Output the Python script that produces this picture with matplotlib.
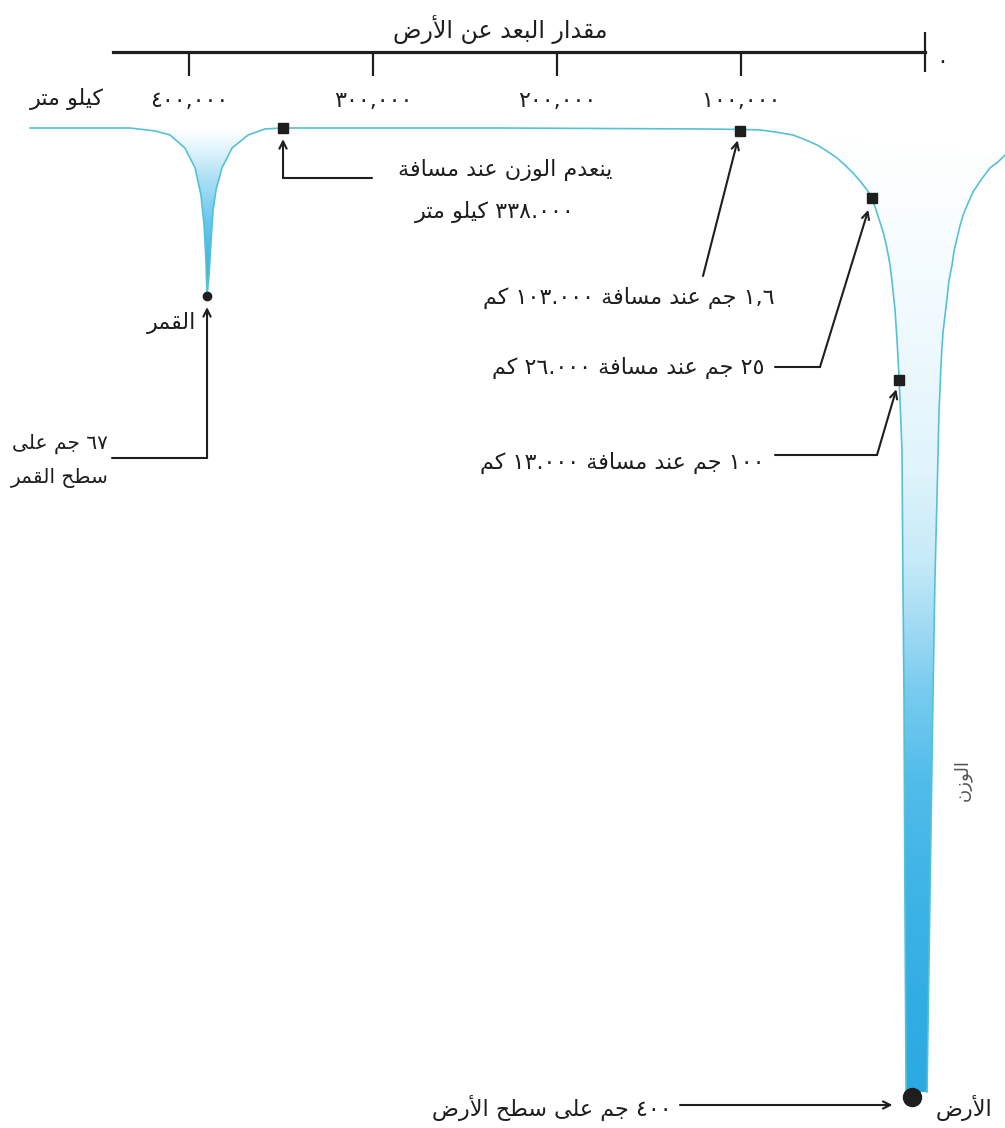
import re
import numpy as np
import matplotlib
matplotlib.use('Agg')
import matplotlib.pyplot as plt
import matplotlib.transforms as mtransforms
from matplotlib.colors import LinearSegmentedColormap
from matplotlib.patches import Polygon

plt.rcParams['font.family'] = ['DejaVu Sans']

# distance from the Earth (thousand km) and weight (g)
dist_ticks = [100, 200, 300, 400]
dist_tick_labels = ['١٠٠,٠٠٠', '٢٠٠,٠٠٠', '٣٠٠,٠٠٠', '٤٠٠,٠٠٠']

# profile from the left edge down into the moon dip and back up
moon_dist = [486.4, 432.1, 418.5, 410.3, 402.2, 396.7, 393.5, 391.8, 390.8, 390.2,
             389.1, 388.0, 386.9, 385.3, 382.1, 376.6, 367.9, 358.7, 348.9]
moon_w = [0, 0, 1.2, 2.9, 8.3, 16.5, 27.7, 40.1, 54.5, 69.4,
          60.7, 46.3, 33.9, 25.6, 16.5, 8.3, 2.9, 0.4, 0]

# near side of the Earth's well, down to the surface
earth_dist = [348.9, 231.0, 122.3, 100.5, 89.7, 81.0, 71.7, 65.2, 58.7, 53.3, 47.8,
              43.5, 39.1, 35.3, 31.5, 28.8, 26.6, 24.5, 22.3, 20.7, 19.0, 17.9,
              16.3, 15.2, 14.1, 12.5, 12.0, 11.4, 10.9, 10.3]
earth_w = [0, 0, 0.4, 0.6, 0.8, 1.7, 2.9, 4.8, 7.0, 9.5, 12.4,
           15.3, 18.6, 21.9, 25.6, 28.9, 33.9, 38.8, 44.2, 49.6, 56.6, 63.6,
           75.2, 87.6, 102.9, 133.1, 186.8, 236.4, 319.0, 398.3]

# far side of the Earth's well, from the surface back up
far_dist = [-1.1, -2.7, -4.3, -5.4, -6.5, -7.6, -8.2, -8.7, -9.2, -9.8, -10.9,
            -12.0, -13.0, -14.7, -15.8, -17.4, -19.0, -20.7, -23.4, -26.1,
            -30.4, -35.3, -39.7, -43.5]
far_w = [398.3, 319.0, 236.4, 186.8, 153.7, 117.4, 107.4, 97.9, 90.9, 84.3, 77.3,
         70.2, 63.2, 56.6, 50.8, 45.5, 40.5, 36.0, 31.0, 26.4,
         21.5, 16.5, 14.0, 11.2]

# marked points
mark_dist = [348.9, 100.5, 28.8, 14.1]
mark_w = [0, 1.2, 28.9, 104.1]
moon_pt = (390.2, 69.4)
earth_pt = (7.1, 400.4)

# ---------------------------------------------------------------------------
AR_FORMS = {
    'ا': ('\ufe8d', '\ufe8e', None, None),
    'أ': ('\ufe83', '\ufe84', None, None),
    'ب': ('\ufe8f', '\ufe90', '\ufe91', '\ufe92'),
    'ة': ('\ufe93', '\ufe94', None, None),
    'ت': ('\ufe95', '\ufe96', '\ufe97', '\ufe98'),
    'ج': ('\ufe9d', '\ufe9e', '\ufe9f', '\ufea0'),
    'ح': ('\ufea1', '\ufea2', '\ufea3', '\ufea4'),
    'د': ('\ufea9', '\ufeaa', None, None),
    'ر': ('\ufead', '\ufeae', None, None),
    'ز': ('\ufeaf', '\ufeb0', None, None),
    'س': ('\ufeb1', '\ufeb2', '\ufeb3', '\ufeb4'),
    'ض': ('\ufebd', '\ufebe', '\ufebf', '\ufec0'),
    'ط': ('\ufec1', '\ufec2', '\ufec3', '\ufec4'),
    'ع': ('\ufec9', '\ufeca', '\ufecb', '\ufecc'),
    'ف': ('\ufed1', '\ufed2', '\ufed3', '\ufed4'),
    'ق': ('\ufed5', '\ufed6', '\ufed7', '\ufed8'),
    'ك': ('\ufed9', '\ufeda', '\ufedb', '\ufedc'),
    'ل': ('\ufedd', '\ufede', '\ufedf', '\ufee0'),
    'م': ('\ufee1', '\ufee2', '\ufee3', '\ufee4'),
    'ن': ('\ufee5', '\ufee6', '\ufee7', '\ufee8'),
    'و': ('\ufeed', '\ufeee', None, None),
    'ى': ('\ufeef', '\ufef0', None, None),
    'ي': ('\ufef1', '\ufef2', '\ufef3', '\ufef4'),
}
LAM_ALEF = {'ا': ('\ufefb', '\ufefc'), 'أ': ('\ufef7', '\ufef8')}


def ar(text):
    # join the letters and put them in visual (left to right) order
    out = []
    i, n = 0, len(text)
    while i < n:
        c = text[i]
        if c not in AR_FORMS:
            out.append(c)
            i += 1
            continue
        prev = text[i - 1] if i > 0 else ''
        join_prev = prev in AR_FORMS and AR_FORMS[prev][2] is not None
        if c == 'ل' and i + 1 < n and text[i + 1] in LAM_ALEF:
            iso, fin = LAM_ALEF[text[i + 1]]
            out.append(fin if join_prev else iso)
            i += 2
            continue
        nxt = text[i + 1] if i + 1 < n else ''
        iso, fin, ini, med = AR_FORMS[c]
        join_next = ini is not None and nxt in AR_FORMS
        if join_prev and join_next:
            out.append(med)
        elif join_prev:
            out.append(fin)
        elif join_next:
            out.append(ini)
        else:
            out.append(iso)
        i += 1
    shaped = ''.join(out)
    tokens = re.findall(r'[٠-٩]+(?:[.,][٠-٩]+)*|.', shaped, flags=re.S)
    return ''.join(reversed(tokens))


ink = '#1e1e1e'
curve_c = '#55c1d6'

fig = plt.figure(figsize=(10.05, 11.28), dpi=100)
ax = fig.add_axes([0, 0, 1, 1])
pix = mtransforms.Affine2D().scale(1, -1).translate(0, 1128)
xpix = mtransforms.blended_transform_factory(ax.transData, pix)


def gradient_fill(xs, ws, stops):
    poly = Polygon(np.column_stack([xs, ws]), closed=True, fc='none', ec='none')
    ax.add_patch(poly)
    cmap = LinearSegmentedColormap.from_list('well', stops)
    grad = np.linspace(0, 1, 300).reshape(-1, 1)
    im = ax.imshow(grad, cmap=cmap, aspect='auto', origin='upper',
                   extent=(min(xs), max(xs), max(ws), 0), zorder=1,
                   interpolation='bilinear')
    im.set_clip_path(poly)


gradient_fill(moon_dist, moon_w,
              [(0, '#ffffff'), (0.12, '#e2f5fc'), (0.3, '#ade0f5'),
               (0.55, '#6ac8ee'), (0.8, '#45b6e8'), (1, '#34ade4')])
gradient_fill(earth_dist[2:] + far_dist, earth_w[2:] + far_w,
              [(0, '#ffffff'), (0.2, '#f0fafe'), (0.35, '#e0f4fb'),
               (0.45, '#c6eaf8'), (0.52, '#9fdaf3'), (0.58, '#7acdef'),
               (0.68, '#50bcea'), (0.80, '#3db3e6'), (0.90, '#33aee4'),
               (1.0, '#2ba9e2')])

ax.plot(moon_dist + earth_dist[1:], moon_w + earth_w[1:], color=curve_c, lw=1.2, zorder=2)
ax.plot(far_dist, far_w, color=curve_c, lw=1.2, zorder=2)

ax.plot(mark_dist, mark_w, 's', color=ink, ms=6.5, zorder=4)
ax.plot(*moon_pt, 'o', color=ink, ms=6, zorder=4)
ax.plot(*earth_pt, 'o', color=ink, ms=13, zorder=4)

# distance axis along the top
ax.set_xlim(502.72, -43.48)
ax.set_ylim(413.2, -52.89)
for s in ['left', 'right', 'top']:
    ax.spines[s].set_visible(False)
ax.spines['bottom'].set_position(('data', -31.4))
ax.spines['bottom'].set_bounds(0, 441.3)
ax.spines['bottom'].set_linewidth(2.3)
ax.spines['bottom'].set_color(ink)
ax.set_yticks([])
ax.set_xticks(dist_ticks, labels=[ar(t) for t in dist_tick_labels])
ax.set_xticks([0], labels=[''], minor=True)
ax.tick_params(axis='x', which='major', direction='out', length=17, width=1.6,
               pad=11, labelsize=16, colors=ink)
ax.tick_params(axis='x', which='minor', direction='inout', length=29, width=1.6,
               colors=ink)
ax.patch.set_alpha(0)

txt = dict(color=ink, fontsize=16, transform=pix, va='center')
ax.text(500, 30, ar('مقدار البعد عن الأرض'), ha='center', fontsize=17,
        color=ink, transform=pix, va='center')
ax.text(936, 62, ar('٠'), ha='left', **txt)
ax.text(104, 99, ar('كيلو متر'), ha='right', **txt)
ax.text(505, 170, ar('ينعدم الوزن عند مسافة'), ha='center', **txt)
ax.text(495, 212, ar('٣٣٨.٠٠٠ كيلو متر'), ha='center', **txt)
ax.text(775, 298, ar('١,٦ جم عند مسافة ١٠٣.٠٠٠ كم'), ha='right', **txt)
ax.text(765, 368, ar('٢٥ جم عند مسافة ٢٦.٠٠٠ كم'), ha='right', **txt)
ax.text(765, 463, ar('١٠٠ جم عند مسافة ١٣.٠٠٠ كم'), ha='right', **txt)
ax.text(196, 323, ar('القمر'), ha='right', **txt)
ax.text(60, 461, ar('٦٧ جم على') + '\n' + ar('سطح القمر'), ha='center',
        linespacing=1.9, color=ink, fontsize=14.5, transform=pix, va='center')
ax.text(672, 1108, ar('٤٠٠ جم على سطح الأرض'), ha='right', **txt)
ax.text(936, 1108, ar('الأرض'), ha='left', **txt)
ax.text(962, 780, ar('الوزن'), ha='center', rotation=90, color='#555555',
        fontsize=13, transform=pix, va='center')

# leaders and arrows
arrow_kw = dict(color=ink, lw=1.5, shrinkA=0, mutation_scale=13)


def leader(xy, xycoords, xytext, textcoords, head=True, shrink=0):
    ax.annotate('', xy=xy, xycoords=xycoords, xytext=xytext, textcoords=textcoords,
                arrowprops=dict(arrowstyle='->' if head else '-', shrinkB=shrink,
                                **arrow_kw))


leader((moon_pt[0], 458), xpix, (112, 458), pix, head=False)
leader(moon_pt, 'data', (moon_pt[0], 458), xpix, shrink=8)
leader((mark_dist[0], 178), xpix, (372, 178), pix, head=False)
leader((mark_dist[0], mark_w[0]), 'data', (mark_dist[0], 178), xpix, shrink=8)
leader((mark_dist[1], mark_w[1]), 'data', (703, 276), pix, shrink=7)
leader((820, 367), pix, (775, 367), pix, head=False)
leader((mark_dist[2], mark_w[2]), 'data', (820, 367), pix, shrink=9)
leader((877, 455), pix, (775, 455), pix, head=False)
leader((mark_dist[3], mark_w[3]), 'data', (877, 455), pix, shrink=7)
leader((earth_pt[0], 1105), xpix, (680, 1105), pix, shrink=14)

fig.savefig('out.png', dpi=100, facecolor='white')
